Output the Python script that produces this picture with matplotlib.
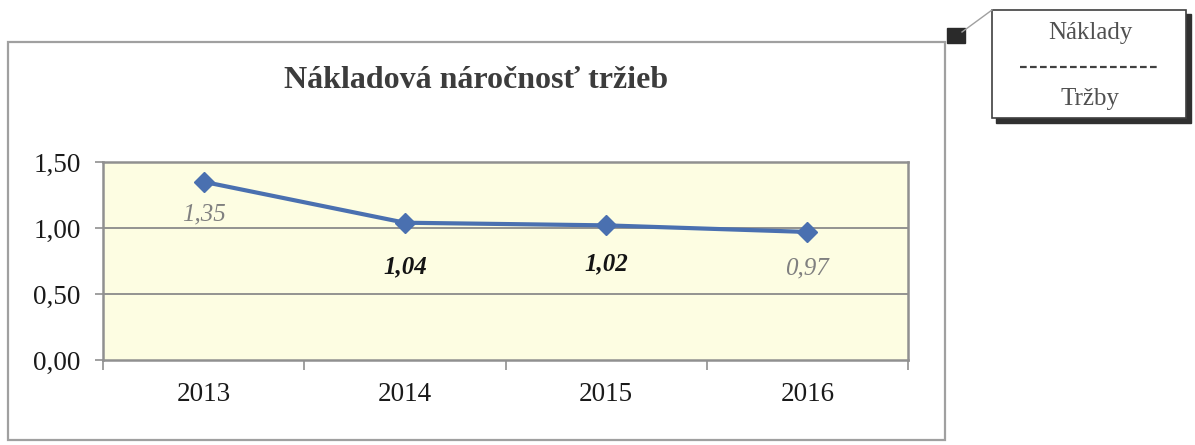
import matplotlib
matplotlib.use("Agg")
import matplotlib.pyplot as plt
from matplotlib.patches import Rectangle
from matplotlib.lines import Line2D
from matplotlib.ticker import FuncFormatter

years = ["2013", "2014", "2015", "2016"]
values = [1.35, 1.04, 1.02, 0.97]
labels = ["1,35", "1,04", "1,02", "0,97"]
yticks = [0.0, 0.5, 1.0, 1.5]
title = "Nákladová náročnosť tržieb"
legend_top = "Náklady"
legend_bottom = "Tržby"

W, H = 1195, 445
DPI = 100
plt.rcParams['font.family'] = ['Liberation Serif', 'DejaVu Serif']

fig = plt.figure(figsize=(W / DPI, H / DPI), dpi=DPI)
fig.patch.set_facecolor('white')

def fx(px):
    return px / W

def fy(py):
    return 1 - py / H

# outer chart frame
fig.add_artist(Rectangle((fx(8), fy(440)), fx(945) - fx(8), fy(42) - fy(440),
                         transform=fig.transFigure, fill=False,
                         edgecolor='#a0a0a0', linewidth=1.6))

# callout square and connector
fig.add_artist(Line2D([fx(962), fx(992)], [fy(32), fy(10)], transform=fig.transFigure,
                      color='#a0a0a0', linewidth=1.0))
fig.add_artist(Rectangle((fx(947), fy(43)), fx(965) - fx(947), fy(28) - fy(43),
                         transform=fig.transFigure, facecolor='#2a2a2a',
                         edgecolor='#2a2a2a'))

# legend box with shadow
fig.add_artist(Rectangle((fx(996), fy(123)), fx(1191) - fx(996), fy(14) - fy(123),
                         transform=fig.transFigure, facecolor='#303030',
                         edgecolor='#303030'))
fig.add_artist(Rectangle((fx(992), fy(118)), fx(1186) - fx(992), fy(10) - fy(118),
                         transform=fig.transFigure, facecolor='white',
                         edgecolor='#404040', linewidth=1.2))
fig.text(fx(1090), fy(33), legend_top, ha='center', va='center', fontsize=18, color='#505050')
fig.add_artist(Line2D([fx(1020), fx(1158)], [fy(67), fy(67)], transform=fig.transFigure,
                      color='#404040', linewidth=1.6, linestyle=(0, (3, 1.5))))
fig.text(fx(1090), fy(99), legend_bottom, ha='center', va='center', fontsize=18, color='#505050')

# title
fig.text(fx(476), fy(81), title, ha='center', va='center', fontsize=23,
         fontweight='bold', color='#3c3c3c')

# plot area
ax = fig.add_axes([fx(103), fy(360), fx(908) - fx(103), fy(162) - fy(360)])
ax.set_facecolor('#fdfde2')
x = list(range(len(years)))
ax.plot(x, values, color='#4a70b0', linewidth=3, marker='D', markersize=10,
        markerfacecolor='#4a70b0', markeredgecolor='#4a70b0', zorder=3)

ax.set_xlim(-0.5, len(years) - 0.5)
ax.set_ylim(0, 1.5)
ax.set_yticks(yticks)
ax.yaxis.set_major_formatter(FuncFormatter(lambda v, p: f"{v:.2f}".replace('.', ',')))
ax.set_xticks(x)
ax.set_xticklabels(years)
ax.set_xticks([i - 0.5 for i in range(len(years) + 1)], minor=True)
ax.tick_params(axis='x', which='major', length=0, pad=16, labelsize=19.5, colors='#1a1a1a')
ax.tick_params(axis='x', which='minor', length=7, width=1.2, color='#909090', direction='out')
ax.tick_params(axis='y', which='major', length=6, width=1.2, color='#909090',
               direction='out', labelsize=19.5, labelcolor='#1a1a1a', pad=10)
for v in yticks[1:-1]:
    ax.axhline(v, color='#8a8a8a', linewidth=1.3, zorder=1)
for s in ax.spines.values():
    s.set_color('#909090')
    s.set_linewidth(1.8)

label_styles = [
    dict(color='#808080', fontweight='normal', dy=-33),
    dict(color='#141414', fontweight='bold', dy=-44),
    dict(color='#141414', fontweight='bold', dy=-38),
    dict(color='#808080', fontweight='normal', dy=-36),
]
for xi, v, lab, st in zip(x, values, labels, label_styles):
    ax.annotate(lab, (xi, v), xytext=(0, st['dy']), textcoords='offset pixels',
                ha='center', va='center', fontsize=18, fontstyle='italic',
                fontweight=st['fontweight'], color=st['color'], zorder=4)

fig.savefig('out.png', dpi=DPI, facecolor='white')
